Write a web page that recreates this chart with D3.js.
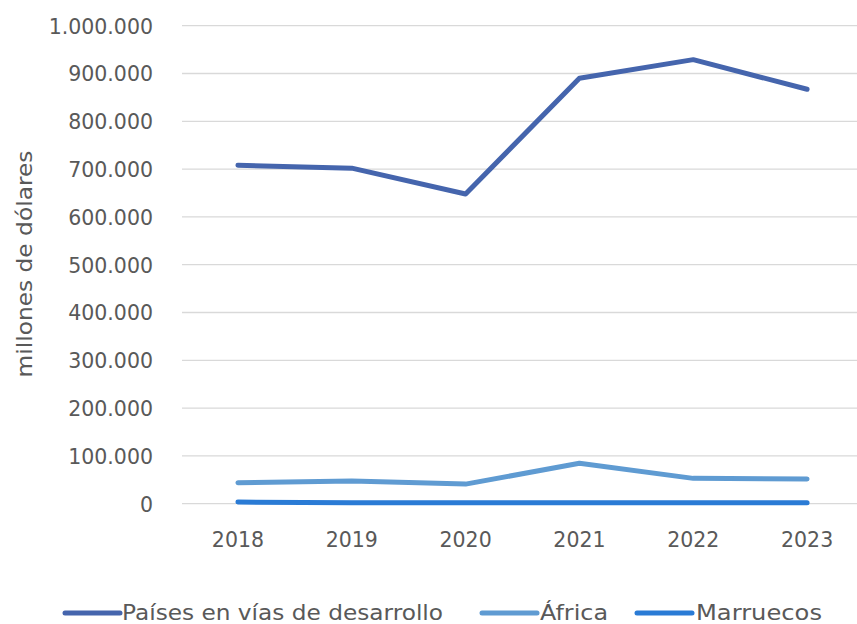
<!DOCTYPE html>
<html>
<head>
<meta charset="utf-8">
<script src="https://cdn.jsdelivr.net/npm/d3@7"></script>
<style>
  html, body { margin: 0; padding: 0; background: #fff; }
  svg { display: block; }
  text { font-family: "DejaVu Sans", "Open Sans", sans-serif; fill: #595959; }
</style>
</head>
<body>
<svg id="chart" width="857" height="624"></svg>
<script>
const years = ["2018", "2019", "2020", "2021", "2022", "2023"];
const paises = [708000, 702000, 648000, 890000, 929000, 867000];
const africa = [44000, 47500, 41000, 84500, 53000, 51700];
const marruecos = [3500, 2000, 2000, 2000, 2000, 2000];
const seriesNames = ["Países en vías de desarrollo", "África", "Marruecos"];
const seriesColors = ["#4565AD", "#5F9BD2", "#2A7BD5"];
const yTicks = [0, 100000, 200000, 300000, 400000, 500000, 600000, 700000, 800000, 900000, 1000000];
const yTitle = "millones de dólares";

const series = [paises, africa, marruecos];
const svg = d3.select("#chart");

const x = d3.scaleBand().domain(years).range([181, 864]);
const y = d3.scaleLinear().domain([0, 1000000]).range([503.7, 25.7]);
const fmt = v => d3.format(",")(v).replace(/,/g, ".");

// gridlines
svg.append("g").selectAll("line").data(yTicks).join("line")
  .attr("x1", 182).attr("x2", 864)
  .attr("y1", d => y(d)).attr("y2", d => y(d))
  .attr("stroke", "#d9d9d9").attr("stroke-width", 1.3);

// y axis labels
const yAxis = d3.axisLeft(y).tickValues(yTicks).tickFormat(fmt).tickSize(0).tickPadding(0);
const gy = svg.append("g").attr("transform", "translate(153,0)").call(yAxis);
gy.select(".domain").remove();
gy.selectAll("text").style("font-size", "20.5px").attr("fill", "#595959").attr("dy", "0.36em");

// x axis labels
const xAxis = d3.axisBottom(x).tickSize(0).tickPadding(0);
const gx = svg.append("g").attr("transform", "translate(0,531)").call(xAxis);
gx.select(".domain").remove();
gx.selectAll("text").style("font-size", "20.5px").attr("fill", "#595959").attr("dy", "0.78em");

// y title
svg.append("text")
  .attr("transform", "translate(25,264) rotate(-90)")
  .attr("text-anchor", "middle")
  .attr("dominant-baseline", "central")
  .style("font-size", "20.5px")
  .attr("textLength", 227).attr("lengthAdjust", "spacingAndGlyphs")
  .text(yTitle);

// lines
const line = d3.line()
  .x((d, i) => x(years[i]) + x.bandwidth() / 2)
  .y(d => y(d));
series.forEach((s, k) => {
  svg.append("path").datum(s)
    .attr("d", line)
    .attr("fill", "none")
    .attr("stroke", seriesColors[k])
    .attr("stroke-width", 5)
    .attr("stroke-linecap", "round")
    .attr("stroke-linejoin", "round");
});

// legend
const legendLineStarts = [65, 482, 637];
const legendTextStarts = [122, 540, 696];
const legendTextLengths = [321, 68, 126];
const ly = 612.5;
seriesNames.forEach((name, k) => {
  const g = svg.append("g");
  g.append("line")
    .attr("x1", legendLineStarts[k]).attr("x2", legendLineStarts[k] + 55)
    .attr("y1", ly + 0.5).attr("y2", ly + 0.5)
    .attr("stroke", seriesColors[k]).attr("stroke-width", 5)
    .attr("stroke-linecap", "round");
  g.append("text")
    .attr("x", legendTextStarts[k]).attr("y", ly)
    .attr("dy", "0.36em")
    .style("font-size", "20.5px")
    .attr("textLength", legendTextLengths[k]).attr("lengthAdjust", "spacingAndGlyphs")
    .text(name);
});
</script>
</body>
</html>
